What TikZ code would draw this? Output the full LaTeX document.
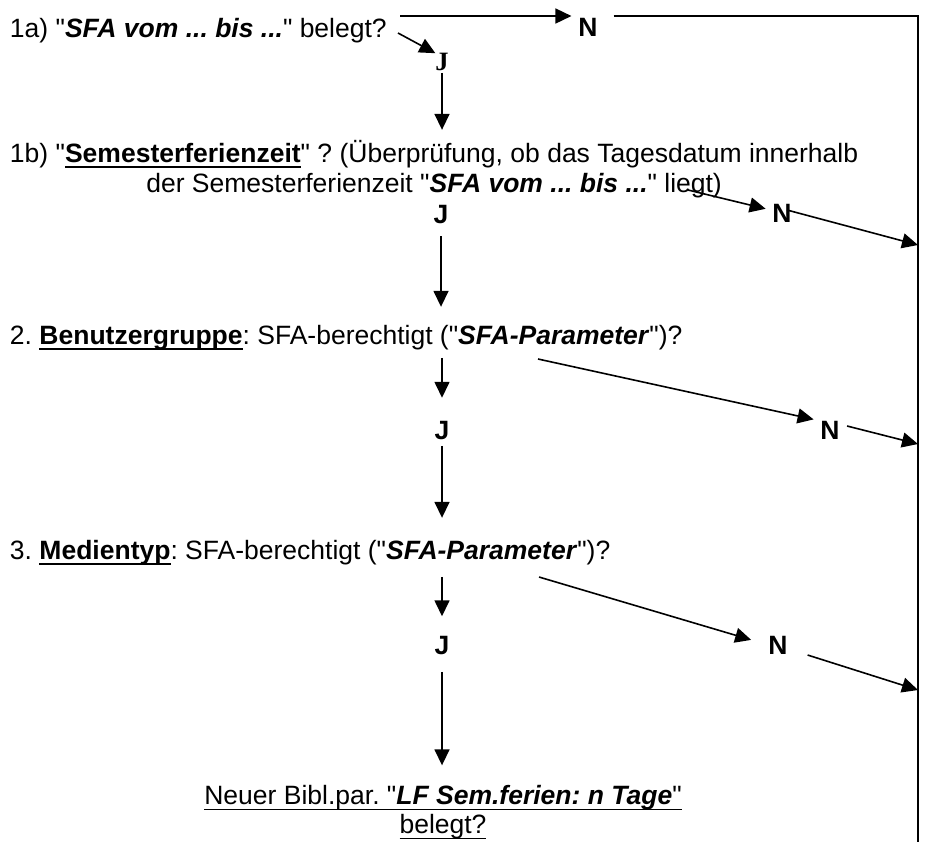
\documentclass[tikz,border=0pt]{standalone}
\usepackage{fontspec}
\setmainfont{Liberation Sans}[Ligatures=TeXOff]
\newfontfamily\serifJ{Liberation Serif}[Ligatures=TeXOff]
\usetikzlibrary{arrows.meta,positioning}
\frenchspacing

\newcommand{\ulbox}[2][0.9pt]{\setbox0=\hbox{#2}\rlap{\rule[-2.9pt]{\wd0}{#1}}\box0}
\newcommand{\bi}[1]{\textbf{\textit{#1}}}

\begin{document}
\begin{tikzpicture}[x=0.5pt,y=-0.5pt,
    font=\fontsize{13.25}{15}\selectfont,
    >={Triangle[length=8pt,width=7.5pt]},
    every node/.style={inner sep=0pt,outer sep=0pt},
    txt/.style={anchor=base west},
    yn/.style={font=\fontsize{13.25}{15}\selectfont\bfseries},
    conn/.style={line width=0.8pt},
    arr/.style={conn,->},
    rline/.style={line width=1.1pt}]
        \useasboundingbox (0,0) rectangle (929,842);

        % questions
        \node[txt] (t1a) at (10,37) {1a) "\bi{SFA vom ... bis ...}" belegt?};
        \node[txt] (t1b) at (10,162) {1b) "\ulbox{\textbf{Semesterferienzeit}}" ? (Überprüfung, ob das Tagesdatum innerhalb};
        \node[anchor=base,yshift=-15pt] (t1c) at (t1b.base) {der Semesterferienzeit "\bi{SFA vom ... bis ...}" liegt)};
        \node[txt] (t2) at (10,344) {2. \ulbox{\textbf{Benutzergruppe}}: SFA-berechtigt ("\bi{SFA-Parameter}")?};
        \node[txt] (t3) at (10,559) {3. \ulbox{\textbf{Medientyp}}: SFA-berechtigt ("\bi{SFA-Parameter}")?};
        \node[anchor=base] (t4) at (443,804) {\ulbox[0.65pt]{Neuer Bibl.par. "\bi{LF Sem.ferien: n Tage}"}};
        \node[anchor=base,yshift=-14.5pt] (t5) at (t4.base) {\ulbox[0.65pt]{belegt?}};

        % J / N
        \node[yn,font=\fontsize{13.25}{15}\selectfont\serifJ\bfseries] (j1a) at (442,62) {J};
        \node[yn] (n1a) at (588,27.5) {N};
        \node[yn] (j1b) at (441,215) {J};
        \node[yn] (n1b) at (782,213) {N};
        \node[yn] (j2) at (442,430) {J};
        \node[yn] (n2) at (830,430) {N};
        \node[yn] (j3) at (442,645) {J};
        \node[yn] (n3) at (778,645) {N};

        \coordinate (a0) at (400,16);
        \coordinate (b0) at (398,33);
        \coordinate (rtop) at (918,16);
        \coordinate (rbot) at (918,842);
        \coordinate (g1b) at (688,190);
        \coordinate (r1b) at (918,245);
        \coordinate (d2) at (538,359);
        \coordinate (r2) at (918,444);
        \coordinate (d3) at (539,577);
        \coordinate (r3) at (918,690);

        % 1a
        \draw[arr,shorten >=3.5pt] (a0) -- (a0 -| n1a.west);
        \draw[rline] ([xshift=8pt]n1a.east |- a0) -- (rtop) -- (rbot);
        \draw[arr] (b0) -- (j1a.north west);
        \draw[arr,shorten <=1pt,shorten >=5pt] (j1a.south) -- (j1a |- t1b.north);

        % 1b
        \draw[arr,shorten <=6pt,shorten >=9pt] (j1b.south) -- (j1b |- t2.north);
        \draw[arr,shorten >=3.5pt] (g1b) -- (n1b.165);
        \draw[arr] ([shift={(2.5pt,1.5pt)}]n1b.center) -- (r1b);

        % 2
        \draw[arr,shorten <=4pt,shorten >=11.5pt] (j2 |- t2.south) -- (j2.north);
        \draw[arr,shorten >=3.5pt] (d2) -- (n2.north west);
        \draw[arr] ([shift={(3.75pt,2pt)}]n2.east) -- (r2);
        \draw[arr,shorten <=3.25pt,shorten >=11pt] (j2.south) -- (j2 |- t3.north);

        % 3
        \draw[arr,shorten <=6pt,shorten >=9.75pt] (j3 |- t3.south) -- (j3.north);
        \draw[arr,shorten >=9pt] (d3) -- (n3.west);
        \draw[arr] ([shift={(10pt,-5pt)}]n3.east) -- (r3);
        \draw[arr,shorten <=8.75pt,shorten >=9.75pt] (j3.south) -- (j3 |- t4.north);
\end{tikzpicture}
\end{document}
